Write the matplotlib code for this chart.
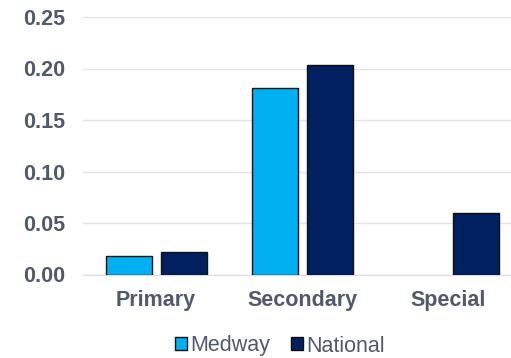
import matplotlib.pyplot as plt
import numpy as np

plt.rcParams['font.family'] = ['Liberation Sans', 'DejaVu Sans']

# rates by school type (no Medway figure for special schools)
categories = ['Primary', 'Secondary', 'Special']
medway = [0.018, 0.181, np.nan]
national = [0.022, 0.203, 0.060]

W, H = 511, 358
fig = plt.figure(figsize=(W / 100, H / 100), dpi=100)
# plot area runs a little past the right edge
ax = fig.add_axes([83 / W, (H - 274.5) / H, (521.5 - 83) / W, (274.5 - 17) / H])

text_col = '#505A6B'
x = np.arange(len(categories))
bw = 0.315
off = 0.188

ax.bar(x - off, medway, bw, color='#00B0F0', edgecolor='#111111', linewidth=1.0,
       label='Medway', zorder=3)
ax.bar(x + off, national, bw, color='#002060', edgecolor='#111111', linewidth=1.0,
       label='National', zorder=3)

ax.set_xlim(-0.5, 2.5)
ax.set_ylim(0, 0.25)
ax.set_yticks(np.arange(0, 0.26, 0.05))
ax.set_yticklabels([f'{v:.2f}' for v in np.arange(0, 0.26, 0.05)])
ax.set_xticks(x)
ax.set_xticklabels(categories)

ax.grid(axis='y', color='#E1E5EB', linewidth=1.0, zorder=0)
for s in ['top', 'right', 'left']:
    ax.spines[s].set_visible(False)
ax.spines['bottom'].set_color('#D9DDE3')
ax.tick_params(axis='both', length=0, labelsize=15.5, labelcolor=text_col)
ax.tick_params(axis='y', pad=13)
ax.tick_params(axis='x', pad=11)
for lbl in ax.get_xticklabels() + ax.get_yticklabels():
    lbl.set_fontweight('bold')

fig.legend(loc='center', bbox_to_anchor=(280 / W, 1 - 346 / H), ncol=2, frameon=False,
           fontsize=15.5, labelcolor=text_col, handlelength=0.55, handleheight=0.55,
           handletextpad=0.15, columnspacing=1.0)

fig.savefig('out.png', dpi=100)
